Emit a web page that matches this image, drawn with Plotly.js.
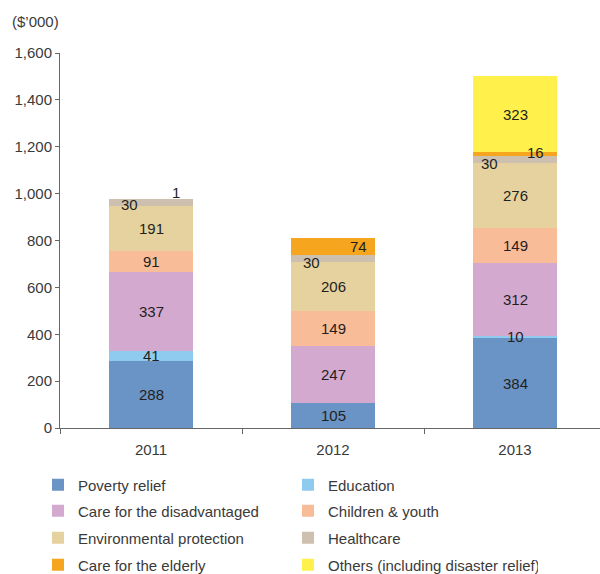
<!DOCTYPE html>
<html>
<head>
<meta charset="utf-8">
<script src="https://cdn.plot.ly/plotly-3.0.1.min.js"></script>
<style>html,body{margin:0;padding:0;background:#fff;}#chart{width:600px;height:574px;}</style>
</head>
<body>
<div id="chart"></div>
<script>
// ---- data ----
const years = ['2011', '2012', '2013'];
const seriesNames = [
  'Poverty relief', 'Education',
  'Care for the disadvantaged', 'Children & youth',
  'Environmental protection', 'Healthcare',
  'Care for the elderly', 'Others (including disaster relief)'
];
const povertyRelief   = [288, 105, 384];
const education       = [41, 0, 10];
const disadvantaged   = [337, 247, 312];
const childrenYouth   = [91, 149, 149];
const environmental   = [191, 206, 276];
const healthcare      = [30, 30, 30];
const elderly         = [1, 74, 16];
const others          = [0, 0, 323];
const yTicks = [0, 200, 400, 600, 800, 1000, 1200, 1400, 1600];

// ---- styling ----
const allSeries = [povertyRelief, education, disadvantaged, childrenYouth,
                   environmental, healthcare, elderly, others];
const colors = ['#6b94c6', '#8fcbee', '#d3a9d0', '#f9bc99',
                '#e6d29f', '#cdc0ae', '#f6a51f', '#fff04b'];
const legendIds = ['legend', 'legend', 'legend2', 'legend2',
                   'legend3', 'legend3', 'legend4', 'legend4'];
const FONT = '"Liberation Sans", Arial, sans-serif';
const FS = 15;

// label offsets in pixels for small segments: key = seriesIndex-yearIndex
const labelShift = {
  '5-0': [-22, -2], '6-0': [25, 6],
  '5-1': [-22, -4], '6-1': [25, 0],
  '5-2': [-26, -4], '6-2': [20, 2]
};

const traces = allSeries.map((vals, i) => ({
  type: 'bar',
  name: seriesNames[i],
  x: years,
  y: vals,
  marker: {color: colors[i], line: {width: 0}},
  width: 0.46,
  textposition: 'none',
  hoverinfo: 'skip',
  legend: legendIds[i]
}));

// labels via annotations positioned on the data scale (category index)
const annotations = [];
const cum = [0, 0, 0];
allSeries.forEach((vals, i) => {
  vals.forEach((v, j) => {
    const base = cum[j];
    cum[j] += v;
    if (v <= 0) return;
    const sh = labelShift[i + '-' + j] || [0, 0];
    annotations.push({
      x: j, y: base + v / 2, xref: 'x', yref: 'y',
      text: String(v), showarrow: false,
      xshift: sh[0], yshift: sh[1],
      font: {family: FONT, size: FS, color: '#231f20'}
    });
  });
});

function legendAt(py) {
  return {
    orientation: 'h', xref: 'container', yref: 'container',
    x: 38 / 600, y: 1 - py / 574, xanchor: 'left', yanchor: 'middle',
    entrywidth: 205, entrywidthmode: 'pixels',
    traceorder: 'normal', bgcolor: 'rgba(0,0,0,0)',
    font: {family: FONT, size: FS, color: '#3a3a3a'}
  };
}

const layout = {
  width: 600, height: 574,
  margin: {l: 60, r: 0, t: 53, b: 146},
  paper_bgcolor: '#fff', plot_bgcolor: '#fff',
  barmode: 'stack',
  font: {family: FONT, size: FS, color: '#3a3a3a'},
  title: {
    text: '($’000)', xref: 'container', yref: 'container',
    x: 12 / 600, xanchor: 'left', y: 1 - 22 / 574, yanchor: 'middle',
    font: {family: FONT, size: FS, color: '#3a3a3a'}
  },
  xaxis: {
    type: 'category', range: [-0.5, 2.467],
    showline: true, linecolor: '#666', linewidth: 1,
    ticks: 'outside', tickson: 'boundaries', ticklen: 5, tickcolor: '#666',
    ticklabelstandoff: 8,
    tickfont: {family: FONT, size: FS, color: '#3a3a3a'},
    showgrid: false, zeroline: false, fixedrange: true
  },
  yaxis: {
    range: [0, 1600], tickvals: yTicks, tickformat: ',',
    showline: true, linecolor: '#666', linewidth: 1,
    ticks: 'outside', ticklen: 4, tickcolor: '#666',
    tickfont: {family: FONT, size: FS, color: '#3a3a3a'},
    showgrid: false, zeroline: false, fixedrange: true
  },
  showlegend: true,
  legend: legendAt(485),
  legend2: legendAt(511),
  legend3: legendAt(538),
  legend4: legendAt(565),
  annotations: annotations
};

Plotly.newPlot('chart', traces, layout, {displayModeBar: false, staticPlot: true});
</script>
</body>
</html>
